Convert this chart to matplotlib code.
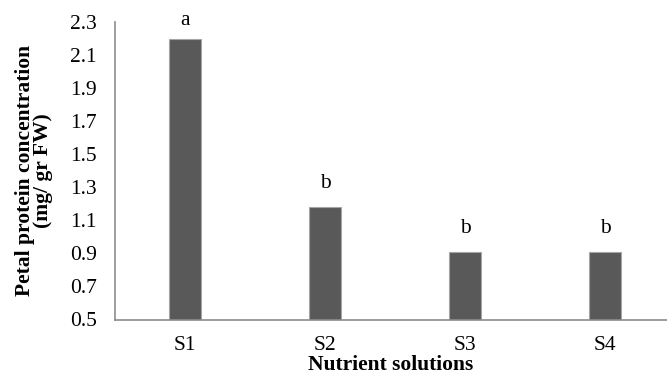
import matplotlib
matplotlib.use("Agg")
import matplotlib.pyplot as plt

categories = ["S1", "S2", "S3", "S4"]
values = [2.20, 1.18, 0.91, 0.91]
letters = ["a", "b", "b", "b"]
yticks = [0.5, 0.7, 0.9, 1.1, 1.3, 1.5, 1.7, 1.9, 2.1, 2.3]

plt.rcParams['font.family'] = ['Liberation Serif', 'DejaVu Serif']

W, H = 667, 378
fig = plt.figure(figsize=(W / 100, H / 100), dpi=100)
left, bottom, top = 115 / W, (H - 319.5) / H, (H - 22) / H
ax = fig.add_axes([left, bottom, 1.0 - left, top - bottom])

x = list(range(len(categories)))
ax.bar(x, values, width=0.235, color="#595959", edgecolor="#a6a6a6", linewidth=0.8)
ax.set_ylim(0.5, 2.3)
ax.set_xlim(-0.5, (W - 115) / 140.0 - 0.5)
ax.set_yticks(yticks)
ax.set_yticklabels([f"{t:.1f}" for t in yticks])
ax.set_xticks(x)
ax.set_xticklabels(categories)
ax.tick_params(axis="both", length=0, labelsize=15.5, colors="black")
ax.tick_params(axis="y", pad=13)
ax.tick_params(axis="x", pad=12)

for s in ["top", "right"]:
    ax.spines[s].set_visible(False)
for s in ["left", "bottom"]:
    ax.spines[s].set_color("#8c8c8c")
    ax.spines[s].set_linewidth(1.2)

offsets = [6, 10, 10, 10]
for xi, v, l, o in zip(x, values, letters, offsets):
    ax.annotate(l, (xi, v), xytext=(0, o), textcoords="offset points",
                ha="center", va="bottom", fontsize=15.5, annotation_clip=False)

ax.set_xlabel("Nutrient solutions", fontsize=15.5, fontweight="bold", labelpad=0)
ax.set_ylabel("Petal protein concentration\n(mg/ gr FW)", fontsize=15.5,
              fontweight="bold", labelpad=12, linespacing=0.9)

fig.savefig("out.png", dpi=100)
